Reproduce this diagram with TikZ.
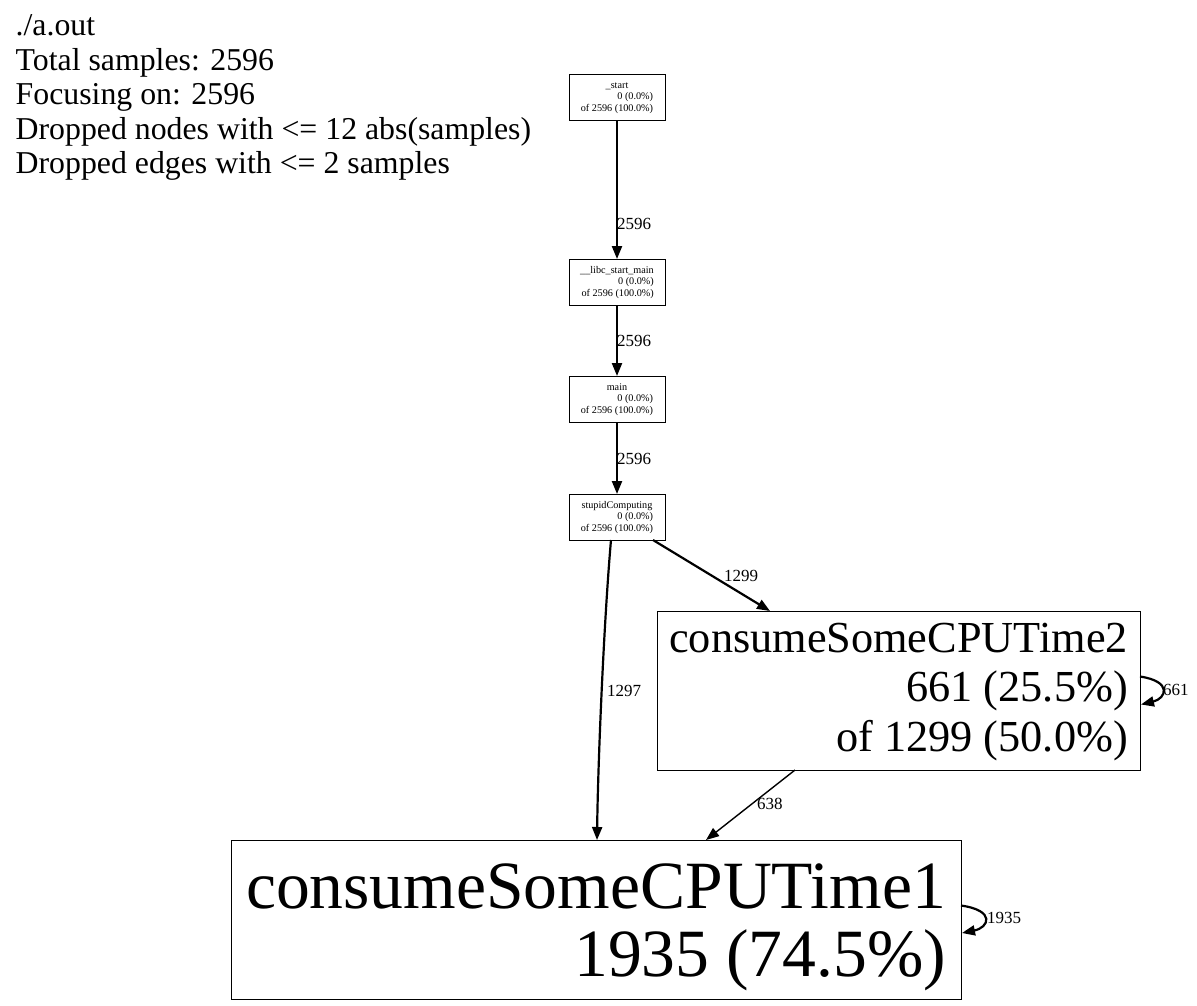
\documentclass[tikz,border=0pt]{standalone}
\usepackage{fontspec}
\setmainfont{Liberation Serif}
\usetikzlibrary{arrows.meta,calc}
\newcommand\pprofsmall[1]{\fontsize{10.2}{11.5}\selectfont\begin{tabular}[t]{@{}r@{}}\multicolumn{1}{@{}c@{}}{#1}\\0 (0.0\%)\\of 2596 (100.0\%)\end{tabular}}
\begin{document}
\begin{tikzpicture}[x=1pt,y=-1pt,
  box/.style={draw,line width=1pt,inner sep=0pt,outer sep=0pt,rectangle},
  smallbox/.style={box,minimum width=96pt,minimum height=46pt},
  txt/.style={inner sep=0pt,outer sep=0pt,anchor=base},
  edge/.style={line width=2.2pt,-{Triangle[length=13pt,width=10pt]}},
  thinedge/.style={line width=1.4pt,-{Triangle[length=13pt,width=10pt]}},
  lbl/.style={inner sep=0pt,anchor=base west,font=\fontsize{17}{17}\selectfont},
  hdr/.style={inner sep=0pt,anchor=base west,font=\fontsize{31.8}{32}\selectfont}]
\useasboundingbox[fill=white] (0,0) rectangle (1197,1005);

% header
\node[hdr] (h1) at (15.5,35) {./a.out};
\node[hdr] (h2) at (15.5,70) {Total samples: 2596};
\node[hdr] (h3) at (15.5,104.5) {Focusing on: 2596};
\node[hdr] (h4) at (15.5,139) {Dropped nodes with <= 12 abs(samples)};
\node[hdr] (h5) at (15.5,173.5) {Dropped edges with <= 2 samples};

% small boxes
\node[smallbox] (start) at (617,97) {};
\node[txt] (startt) at (617,88) {\pprofsmall{\_start}};
\node[smallbox] (libc) at (617,282) {};
\node[txt] (libct) at (617,273) {\pprofsmall{\_\_libc\_start\_main}};
\node[smallbox] (main) at (617,399) {};
\node[txt] (maint) at (617,390) {\pprofsmall{main}};
\node[smallbox] (stupid) at (617,517) {};
\node[txt] (stupidt) at (617,508) {\pprofsmall{stupidComputing}};

% big boxes
\node[box,minimum width=483pt,minimum height=159pt] (cpu2) at (898.5,690.5) {};
\node[txt] (cpu2t) at (898.5,652) {\fontsize{44.3}{49.6}\selectfont\begin{tabular}[t]{@{}r@{}}consumeSomeCPUTime2\\661 (25.5\%)\\of 1299 (50.0\%)\end{tabular}};
\node[box,minimum width=730pt,minimum height=159pt] (cpu1) at (596,919.5) {};
\node[txt] (cpu1t) at (596,908) {\fontsize{67.6}{68}\selectfont\begin{tabular}[t]{@{}r@{}}consumeSomeCPUTime1\\1935 (74.5\%)\end{tabular}};

% edges
\draw[edge] (start.south) -- (libc.north);
\node[lbl] (l1) at (617,229) {2596};
\draw[edge] (libc.south) -- (main.north);
\node[lbl] (l2) at (617,346) {2596};
\draw[edge] (main.south) -- (stupid.north);
\node[lbl] (l3) at (617,464) {2596};
\draw[edge] ([xshift=-12pt]stupid.south east) -- ([xshift=113pt]cpu2.north west);
\node[lbl] (l4) at (724,581) {1299};
\draw[edge] ([xshift=-6pt]stupid.south) .. controls ($(stupid.south)+(-13,80)$) and ($(cpu1.north)+(2,-80)$) .. ([xshift=1pt]cpu1.north);
\node[lbl] (l5) at (607,696) {1297};
\draw[thinedge] ([xshift=138pt]cpu2.south west) -- ([xshift=110pt]cpu1.north);
\node[lbl] (l6) at (757,809) {638};
\draw[edge] ($(cpu2.east)+(0,-14)$) .. controls ($(cpu2.east)+(33,-9)$) and ($(cpu2.east)+(26,8)$) .. ($(cpu2.east)+(1,14)$);
\node[lbl] (l7) at (1163,695) {661};
\draw[edge] ($(cpu1.east)+(0,-14)$) .. controls ($(cpu1.east)+(35,-9)$) and ($(cpu1.east)+(28,8)$) .. ($(cpu1.east)+(1,13.5)$);
\node[lbl] (l8) at (987,923) {1935};
\end{tikzpicture}
\end{document}
